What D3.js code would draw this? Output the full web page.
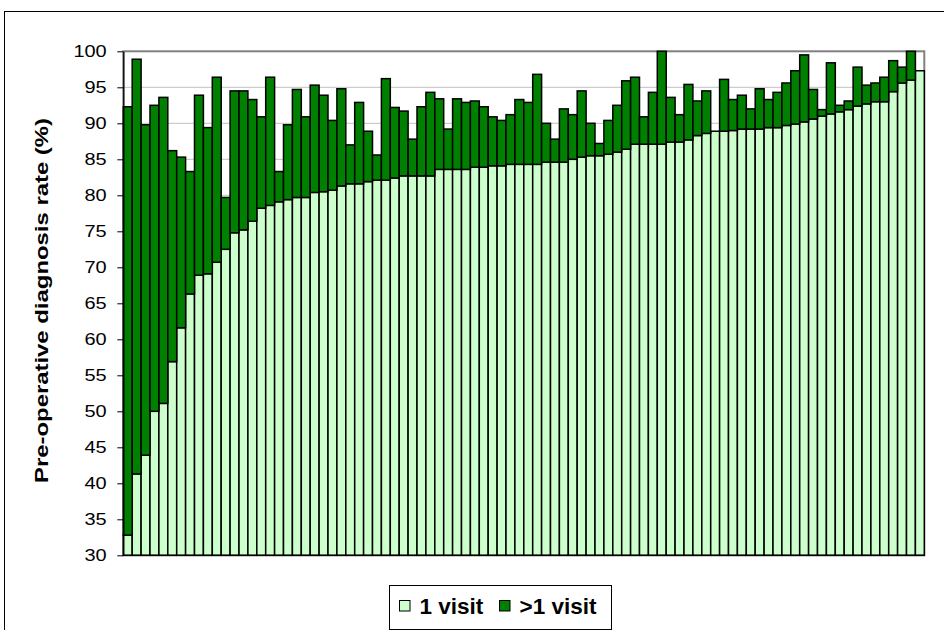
<!DOCTYPE html>
<html>
<head>
<meta charset="utf-8">
<script src="https://cdnjs.cloudflare.com/ajax/libs/d3/7.8.5/d3.min.js"></script>
<style>
  body { margin: 0; background: #fff; }
  svg { display: block; }
</style>
</head>
<body>
<div id="chart"></div>
<script>
// one bar per unit, sorted by the 1 visit rate
var oneVisit = [32.8, 41.3, 43.9, 50.0, 51.1, 56.9, 61.6, 66.3, 68.9, 69.1,
    70.7, 72.5, 74.8, 75.2, 76.4, 78.2, 78.6, 79.1, 79.4, 79.7,
    79.7, 80.4, 80.5, 80.7, 81.3, 81.6, 81.6, 81.9, 82.1, 82.1,
    82.4, 82.7, 82.7, 82.7, 82.7, 83.6, 83.6, 83.6, 83.6, 83.9,
    83.9, 84.1, 84.1, 84.3, 84.3, 84.3, 84.3, 84.6, 84.6, 84.6,
    85.0, 85.3, 85.5, 85.5, 85.7, 86.0, 86.4, 87.1, 87.1, 87.1,
    87.1, 87.4, 87.4, 87.7, 88.3, 88.6, 88.9, 88.9, 89.0, 89.2,
    89.2, 89.2, 89.4, 89.4, 89.7, 89.9, 90.2, 90.6, 91.0, 91.3,
    91.6, 91.9, 92.4, 92.7, 93.0, 93.0, 94.4, 95.6, 96.0, 97.3];

// total rate (1 visit + >1 visit)
var totalRate = [92.3, 98.9, 89.8, 92.5, 93.6, 86.2, 85.3, 83.3, 93.9, 89.4,
    96.4, 79.7, 94.5, 94.5, 93.3, 90.9, 96.4, 83.3, 89.8, 94.7,
    90.9, 95.3, 93.9, 90.4, 94.8, 87.0, 92.9, 88.9, 85.6, 96.2,
    92.2, 91.7, 87.8, 92.3, 94.3, 93.4, 89.2, 93.4, 92.9, 93.1,
    92.3, 90.9, 90.4, 91.2, 93.3, 92.9, 96.8, 90.0, 87.8, 92.0,
    91.2, 94.5, 90.0, 87.2, 90.4, 92.5, 95.9, 96.4, 90.9, 94.3,
    100.0, 93.6, 91.2, 95.4, 93.1, 94.5, 88.9, 96.1, 93.3, 93.9,
    92.0, 94.8, 93.3, 94.3, 95.6, 97.3, 99.5, 94.7, 91.9, 98.4,
    92.5, 93.1, 97.8, 95.3, 95.6, 96.4, 98.7, 97.8, 100.0, 97.3];

var yTicks = [30, 35, 40, 45, 50, 55, 60, 65, 70, 75, 80, 85, 90, 95, 100];
var seriesNames = ["1 visit", ">1 visit"];
var seriesColors = ["#CCFFCC", "#008000"];

var W = 944, H = 630;
var plot = {left: 123.3, right: 924.3, top: 51.3, bottom: 555.3};

var table = oneVisit.map(function(v, i) {
    return {id: i, one: v, more: Math.max(0, +(totalRate[i] - v).toFixed(1))};
});

var svg = d3.select("#chart").append("svg")
    .attr("width", W)
    .attr("height", H)
    .style("font-family", "'Liberation Sans', Arial, sans-serif");

// outer chart frame (cut off at the right and bottom)
svg.append("rect")
    .attr("x", 4.5).attr("y", 11.5)
    .attr("width", 1000).attr("height", 700)
    .attr("fill", "#fff").attr("stroke", "#000").attr("stroke-width", 1);

var x = d3.scaleBand()
    .domain(table.map(d => d.id))
    .range([plot.left, plot.right])
    .padding(0);

var y = d3.scaleLinear()
    .domain([30, 100])
    .range([plot.bottom, plot.top]);

// gridlines
svg.append("g")
    .selectAll("line")
    .data(yTicks.filter(t => t > 30 && t < 100))
    .enter().append("line")
        .attr("x1", plot.left).attr("x2", plot.right)
        .attr("y1", d => y(d)).attr("y2", d => y(d))
        .attr("stroke", "#c0c0c0").attr("stroke-width", 1);

// plot area border
svg.append("rect")
    .attr("x", plot.left).attr("y", y(100))
    .attr("width", plot.right - plot.left)
    .attr("height", y(30) - y(100))
    .attr("fill", "none").attr("stroke", "#808080").attr("stroke-width", 2);

// stacked bars
var stack = d3.stack().keys(["one", "more"]);
var layers = stack(table);

svg.append("g")
    .selectAll("g")
    .data(layers)
    .enter().append("g")
        .attr("fill", (d, i) => seriesColors[i])
    .selectAll("rect")
    .data(d => d.filter(p => p[1] - p[0] > 0))
    .enter().append("rect")
        .attr("x", d => x(d.data.id))
        .attr("width", x.bandwidth())
        .attr("y", d => y(d[1]))
        .attr("height", d => y(d[0] < 30 ? 30 : d[0]) - y(d[1]))
        .attr("stroke", "#000")
        .attr("stroke-width", 1.5);

// y axis
var yAxis = svg.append("g")
    .attr("transform", "translate(" + plot.left + ",0)")
    .call(d3.axisLeft(y).tickValues(yTicks).tickSize(6).tickSizeOuter(0).tickPadding(10.6));
yAxis.select(".domain").attr("stroke", "#000").attr("stroke-width", 1.3);
yAxis.selectAll(".tick line").attr("stroke", "#000");
yAxis.selectAll("text")
    .attr("font-size", 17)
    .attr("font-family", "'Liberation Sans', Arial, sans-serif")
    .attr("fill", "#000")
    .attr("textLength", d => String(d).length * 11.1)
    .attr("lengthAdjust", "spacingAndGlyphs");

// category axis line
svg.append("line")
    .attr("x1", plot.left).attr("x2", plot.right)
    .attr("y1", plot.bottom).attr("y2", plot.bottom)
    .attr("stroke", "#000").attr("stroke-width", 1.3);

// y axis title
svg.append("text")
    .attr("transform", "translate(47.5,300.5) rotate(-90)")
    .attr("text-anchor", "middle")
    .attr("font-size", 18.5)
    .attr("font-weight", "bold")
    .attr("textLength", 365)
    .attr("lengthAdjust", "spacingAndGlyphs")
    .text("Pre-operative diagnosis rate (%)");

// legend
var legend = svg.append("g");
legend.append("rect")
    .attr("x", 389.5).attr("y", 585.5)
    .attr("width", 222).attr("height", 44)
    .attr("fill", "#fff").attr("stroke", "#000").attr("stroke-width", 1);

var legendX = [399.5, 499.5];
var legendTextX = [419.5, 519.5];
seriesNames.forEach(function(name, i) {
    legend.append("rect")
        .attr("x", legendX[i]).attr("y", 600.5)
        .attr("width", 10.5).attr("height", 10.5)
        .attr("fill", seriesColors[i])
        .attr("stroke", "#000").attr("stroke-width", 1);
    legend.append("text")
        .attr("x", legendTextX[i]).attr("y", 614)
        .attr("font-size", 22.5)
        .attr("font-weight", "bold")
        .text(name);
});
</script>
</body>
</html>
